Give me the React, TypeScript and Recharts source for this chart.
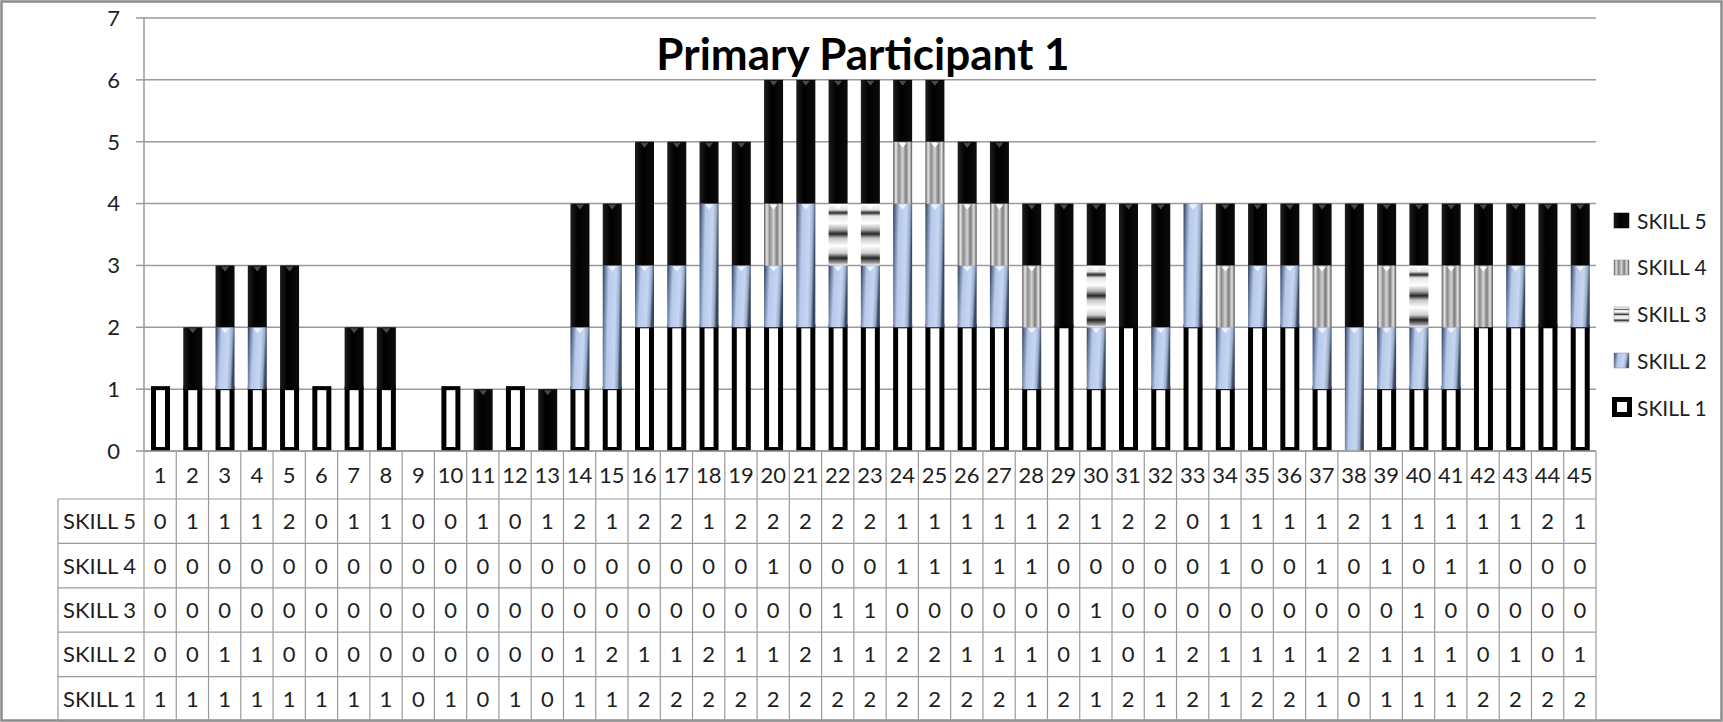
import React from "react"
import { BarChart, Bar, XAxis, YAxis, CartesianGrid } from "recharts"

const categories = [
  "1", "2", "3", "4", "5", "6", "7", "8", "9", "10", "11", "12", "13", "14", "15",
  "16", "17", "18", "19", "20", "21", "22", "23", "24", "25", "26", "27", "28", "29", "30",
  "31", "32", "33", "34", "35", "36", "37", "38", "39", "40", "41", "42", "43", "44", "45",
]

const skill1 = [1, 1, 1, 1, 1, 1, 1, 1, 0, 1, 0, 1, 0, 1, 1, 2, 2, 2, 2, 2, 2, 2, 2, 2, 2, 2, 2, 1, 2, 1, 2, 1, 2, 1, 2, 2, 1, 0, 1, 1, 1, 2, 2, 2, 2]
const skill2 = [0, 0, 1, 1, 0, 0, 0, 0, 0, 0, 0, 0, 0, 1, 2, 1, 1, 2, 1, 1, 2, 1, 1, 2, 2, 1, 1, 1, 0, 1, 0, 1, 2, 1, 1, 1, 1, 2, 1, 1, 1, 0, 1, 0, 1]
const skill3 = [0, 0, 0, 0, 0, 0, 0, 0, 0, 0, 0, 0, 0, 0, 0, 0, 0, 0, 0, 0, 0, 1, 1, 0, 0, 0, 0, 0, 0, 1, 0, 0, 0, 0, 0, 0, 0, 0, 0, 1, 0, 0, 0, 0, 0]
const skill4 = [0, 0, 0, 0, 0, 0, 0, 0, 0, 0, 0, 0, 0, 0, 0, 0, 0, 0, 0, 1, 0, 0, 0, 1, 1, 1, 1, 1, 0, 0, 0, 0, 0, 1, 0, 0, 1, 0, 1, 0, 1, 1, 0, 0, 0]
const skill5 = [0, 1, 1, 1, 2, 0, 1, 1, 0, 0, 1, 0, 1, 2, 1, 2, 2, 1, 2, 2, 2, 2, 2, 1, 1, 1, 1, 1, 2, 1, 2, 2, 0, 1, 1, 1, 1, 2, 1, 1, 1, 1, 1, 2, 1]

const seriesNames = ["SKILL 1", "SKILL 2", "SKILL 3", "SKILL 4", "SKILL 5"]
const yTicks = [0, 1, 2, 3, 4, 5, 6, 7]
const title = "Primary Participant 1"

const seriesValues = [skill1, skill2, skill3, skill4, skill5]
const data = categories.map((c, i) => ({
  cat: c,
  s1: skill1[i], s2: skill2[i], s3: skill3[i], s4: skill4[i], s5: skill5[i],
}))

// layout (px)
const W = 1723
const H = 722
const PLOT_L = 144
const PLOT_R = 1596
const PLOT_T = 18
const PLOT_B = 451
const Y_AXIS_W = 60
const X_AXIS_H = 30
const COL_W = (PLOT_R - PLOT_L) / categories.length
const ROW_TOP = 499
const ROW_H = 44.4
const LABEL_L = 58
const FONT = "Lato, 'Open Sans', sans-serif"
const GRID = "#9a9a9a"
const INK = "#1e1e1e"

// table rows are listed top-down: SKILL 5 .. SKILL 1
const tableRows = [4, 3, 2, 1, 0]

function Skill1Shape(props: any) {
  const { x, y, width, height } = props
  if (!height || height <= 0) return null
  return (
    <g>
      <rect x={x} y={y - 3} width={width} height={height + 3} fill="#000" />
      <rect x={x + 5} y={y + 1} width={Math.max(width - 10, 0)} height={Math.max(height - 5, 0)} fill="#fff" />
    </g>
  )
}

function makeShape(tri: string) {
  return function SegShape(props: any) {
    const { x, y, width, height, fill } = props
    if (!height || height <= 0) return null
    const cx = x + width / 2
    return (
      <g>
        <rect x={x} y={y} width={width} height={height} fill={fill} />
        <polygon points={`${cx - 4},${y + 1} ${cx + 4},${y + 1} ${cx},${y + 6}`} fill={tri} />
      </g>
    )
  }
}

const Skill2Shape = makeShape("#eef3fc")
const Skill3Shape = makeShape("#ffffff")
const Skill4Shape = makeShape("#ffffff")
const Skill5Shape = makeShape("#4a4a4a")

function TableTick(props: any) {
  const { x, payload } = props
  const i = payload.index
  const left = x - COL_W / 2
  const right = x + COL_W / 2
  const bottom = ROW_TOP + ROW_H * 5
  const lines: React.ReactNode[] = []
  lines.push(<line key="l" x1={left} y1={PLOT_B} x2={left} y2={bottom} stroke={GRID} strokeWidth={1.2} />)
  if (i === categories.length - 1) {
    lines.push(<line key="r" x1={right} y1={PLOT_B} x2={right} y2={bottom} stroke={GRID} strokeWidth={1.2} />)
  }
  for (let r = 0; r <= 5; r++) {
    const yy = ROW_TOP + ROW_H * r
    lines.push(<line key={`h${r}`} x1={left} y1={yy} x2={right} y2={yy} stroke={GRID} strokeWidth={1.2} />)
  }
  const labelCol = i === 0 ? (
    <g>
      <line x1={LABEL_L} y1={ROW_TOP} x2={LABEL_L} y2={bottom} stroke={GRID} strokeWidth={1.2} />
      {[0, 1, 2, 3, 4, 5].map((r) => (
        <line key={r} x1={LABEL_L} y1={ROW_TOP + ROW_H * r} x2={left} y2={ROW_TOP + ROW_H * r} stroke={GRID} strokeWidth={1.2} />
      ))}
      {tableRows.map((s, r) => (
        <text key={s} x={LABEL_L + 5} y={ROW_TOP + ROW_H * r + ROW_H / 2 + 8} fontSize={22} fill={INK} fontFamily={FONT}>
          {seriesNames[s]}
        </text>
      ))}
    </g>
  ) : null
  return (
    <g>
      {lines}
      {labelCol}
      <text x={x} y={(PLOT_B + ROW_TOP) / 2 + 8} textAnchor="middle" fontSize={22} fill={INK} fontFamily={FONT}>
        {payload.value}
      </text>
      {tableRows.map((s, r) => (
        <text key={s} x={x} y={ROW_TOP + ROW_H * r + ROW_H / 2 + 8} textAnchor="middle" fontSize={22} fill={INK} fontFamily={FONT}>
          {seriesValues[s][i]}
        </text>
      ))}
    </g>
  )
}

function LegendSwatch({ s }: { s: number }) {
  if (s === 0) {
    return (
      <svg width={20} height={20}>
        <rect x={0} y={0} width={20} height={20} fill="#000" />
        <rect x={5} y={5} width={10} height={10} fill="#fff" />
      </svg>
    )
  }
  const fills = ["", "url(#g2)", "url(#g3)", "url(#g4)", "url(#g5)"]
  return (
    <svg width={20} height={20}>
      <rect x={2} y={3} width={15} height={15} fill={fills[s]} stroke={s === 4 ? "#000" : "#888"} strokeWidth={0.5} />
    </svg>
  )
}

export default function App() {
  return (
    <div style={{ position: "absolute", left: 0, top: 0, width: W, height: H, background: "#fff", fontFamily: FONT }}>
      <svg width={W} height={H} style={{ position: "absolute", left: 0, top: 0 }}>
        <rect x={1.5} y={1.5} width={W - 3} height={H - 3} fill="none" stroke="#8c8c8c" strokeWidth={2.5} />
      </svg>
      <div style={{ position: "absolute", left: 0, top: 0 }}>
        <BarChart
          width={W}
          height={H}
          data={data}
          margin={{ top: PLOT_T, right: W - PLOT_R, bottom: H - PLOT_B - X_AXIS_H, left: PLOT_L - Y_AXIS_W }}
          barSize={19}
        >
          <defs>
            <linearGradient id="g2" x1="0" y1="0" x2="1" y2="0.15">
              <stop offset="0%" stopColor="#2c3852" />
              <stop offset="14%" stopColor="#6d80a4" />
              <stop offset="32%" stopColor="#b7c9e9" />
              <stop offset="70%" stopColor="#c6d6f2" />
              <stop offset="88%" stopColor="#9aabcb" />
              <stop offset="100%" stopColor="#3a465e" />
            </linearGradient>
            <linearGradient id="g3" x1="0" y1="0" x2="0" y2="1">
              <stop offset="0%" stopColor="#ffffff" />
              <stop offset="10%" stopColor="#e0e0e0" />
              <stop offset="15%" stopColor="#2a2a2a" />
              <stop offset="20%" stopColor="#e4e4e4" />
              <stop offset="32%" stopColor="#ffffff" />
              <stop offset="42%" stopColor="#a8a8a8" />
              <stop offset="49%" stopColor="#262626" />
              <stop offset="56%" stopColor="#c4c4c4" />
              <stop offset="68%" stopColor="#ffffff" />
              <stop offset="80%" stopColor="#d0d0d0" />
              <stop offset="88%" stopColor="#222222" />
              <stop offset="95%" stopColor="#909090" />
              <stop offset="100%" stopColor="#f4f4f4" />
            </linearGradient>
            <linearGradient id="g4" x1="0" y1="0" x2="1" y2="0">
              <stop offset="0%" stopColor="#565656" />
              <stop offset="14%" stopColor="#e6e6e6" />
              <stop offset="30%" stopColor="#8a8a8a" />
              <stop offset="50%" stopColor="#d4d4d4" />
              <stop offset="68%" stopColor="#7c7c7c" />
              <stop offset="85%" stopColor="#e2e2e2" />
              <stop offset="100%" stopColor="#555555" />
            </linearGradient>
            <linearGradient id="g5" x1="0" y1="0" x2="1" y2="0">
              <stop offset="0%" stopColor="#1e1e1e" />
              <stop offset="40%" stopColor="#000000" />
              <stop offset="100%" stopColor="#0c0c0c" />
            </linearGradient>
          </defs>
          <CartesianGrid vertical={false} stroke={GRID} strokeWidth={1.5} />
          <XAxis
            dataKey="cat"
            height={X_AXIS_H}
            interval={0}
            tickLine={false}
            tickSize={0}
            tickMargin={0}
            axisLine={{ stroke: GRID, strokeWidth: 1.5 }}
            tick={<TableTick />}
          />
          <YAxis
            width={Y_AXIS_W}
            domain={[0, 7]}
            ticks={yTicks}
            interval={0}
            tickSize={8}
            tickMargin={16}
            axisLine={{ stroke: GRID, strokeWidth: 1.5 }}
            tickLine={{ stroke: GRID, strokeWidth: 1.5 }}
            tick={{ fontSize: 22, fill: INK, fontFamily: FONT }}
          />
          <Bar dataKey="s1" stackId="a" fill="#000" shape={<Skill1Shape />} isAnimationActive={false} />
          <Bar dataKey="s2" stackId="a" fill="url(#g2)" shape={<Skill2Shape />} isAnimationActive={false} />
          <Bar dataKey="s3" stackId="a" fill="url(#g3)" shape={<Skill3Shape />} isAnimationActive={false} />
          <Bar dataKey="s4" stackId="a" fill="url(#g4)" shape={<Skill4Shape />} isAnimationActive={false} />
          <Bar dataKey="s5" stackId="a" fill="url(#g5)" shape={<Skill5Shape />} isAnimationActive={false} />
        </BarChart>
      </div>
      <div
        style={{
          position: "absolute", left: 0, width: 1726, top: 28, textAlign: "center",
          fontSize: 44, fontWeight: 700, color: "#000", fontFamily: FONT, lineHeight: "50px",
        }}
      >
        {title}
      </div>
      <div style={{ position: "absolute", left: 1612, top: 0 }}>
        {[4, 3, 2, 1, 0].map((s, k) => (
          <div
            key={s}
            style={{
              position: "absolute", top: 208 + k * 46.8, left: 0, display: "flex", alignItems: "center",
              whiteSpace: "nowrap", fontSize: 21, color: INK, fontFamily: FONT, height: 24,
            }}
          >
            <LegendSwatch s={s} />
            <span style={{ marginLeft: 5 }}>{seriesNames[s]}</span>
          </div>
        ))}
      </div>
    </div>
  )
}
